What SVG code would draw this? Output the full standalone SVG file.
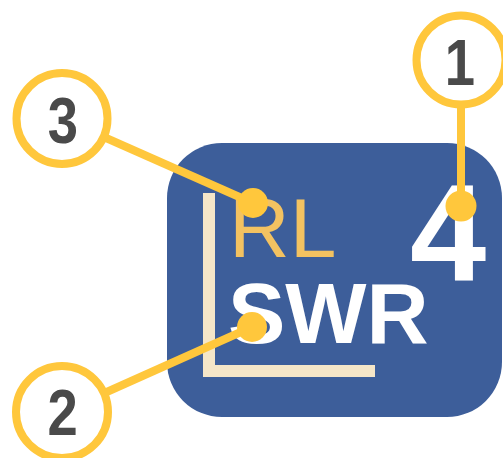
<svg xmlns="http://www.w3.org/2000/svg" width="503" height="458" viewBox="0 0 503 458">
<style>
.num{font-family:"Liberation Sans",Arial,sans-serif;font-weight:bold;font-size:64px;fill:#4A4A4A;text-anchor:middle}
.callout{fill:#FFFFFF;stroke:#FFC73C;stroke-width:8}
.lead{stroke:#FFC73C;stroke-width:8;fill:none}
.dot{fill:#FFC73C}
.bar{fill:#F5E6C8}
</style>
<rect width="503" height="458" fill="#FFFFFF"/>
<g id="icon">
<rect x="167" y="143" width="335" height="274" rx="55" ry="55" fill="#3D5E9A"/>
<rect class="bar" x="203" y="193" width="12" height="184"/>
<rect class="bar" x="203" y="365" width="172" height="12"/>
<text x="229" y="257" font-family="'Liberation Sans',Arial,sans-serif" font-size="84" fill="#F3C261">RL</text>
<text x="228" y="343" font-family="'Liberation Sans',Arial,sans-serif" font-size="86" font-weight="bold" fill="#FFFFFF">SWR</text>
<text x="410" y="280" font-family="'Liberation Sans',Arial,sans-serif" font-size="137" font-weight="bold" fill="#FFFFFF">4</text>
</g>
<g id="connectors">
<line class="lead" x1="461" y1="60" x2="461" y2="206"/>
<circle class="dot" cx="461" cy="206" r="15.5"/>
<line class="lead" x1="62" y1="118.5" x2="253" y2="203"/>
<circle class="dot" cx="253" cy="203" r="15"/>
<line class="lead" x1="62" y1="412" x2="252" y2="327"/>
<circle class="dot" cx="252" cy="327" r="15"/>
</g>
<g id="callout-1">
<circle class="callout" cx="461" cy="60" r="44.5"/>
<text class="num" transform="translate(460,85) scale(0.85,1)" x="0" y="0">1</text>
</g>
<g id="callout-3">
<circle class="callout" cx="62" cy="118.5" r="45.5"/>
<text class="num" transform="translate(63,142.7) scale(0.85,1)" x="0" y="0">3</text>
</g>
<g id="callout-2">
<circle class="callout" cx="62" cy="412" r="46"/>
<text class="num" transform="translate(62.7,435) scale(0.85,1)" x="0" y="0">2</text>
</g>
</svg>
